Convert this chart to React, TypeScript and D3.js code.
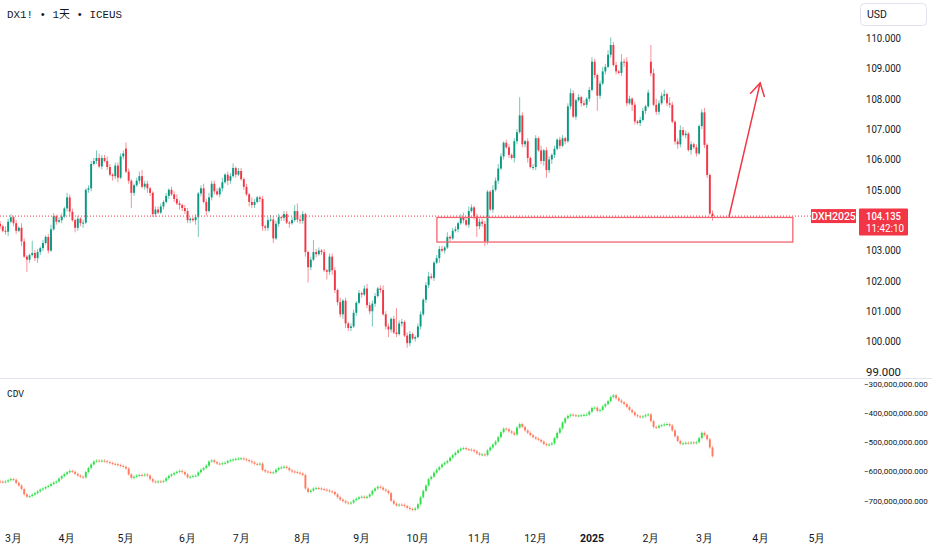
import React from "react";
import * as d3 from "d3";

// ---------- DATA ----------
const closes: number[] = [
  103.80, 103.65, 103.62, 103.95, 104.10, 103.90, 103.65, 103.75, 103.30, 102.80,
  102.70, 102.85, 102.92, 102.75, 102.95, 103.08, 103.25, 103.45, 103.00, 103.70,
  104.13, 103.95, 104.00, 104.12, 104.39, 104.75, 104.28, 104.00, 103.75, 104.05,
  103.90, 103.92, 105.00, 105.05, 105.85, 105.95, 106.05, 105.77, 106.05, 105.95,
  105.75, 105.50, 105.45, 105.80, 105.40, 106.10, 106.20, 105.60, 105.30, 104.90,
  105.15, 105.30, 105.45, 105.10, 105.20, 105.05, 104.90, 104.20, 104.35, 104.25,
  104.45, 104.60, 104.80, 105.00, 104.85, 104.70, 104.55, 104.50, 104.40, 104.30,
  104.00, 104.05, 104.00, 104.10, 104.88, 105.05, 104.60, 104.30, 104.75, 105.20,
  104.95, 104.85, 105.05, 105.25, 105.50, 105.30, 105.45, 105.72, 105.50, 105.62,
  105.35, 105.10, 104.85, 104.60, 104.50, 104.60, 104.75, 104.70, 103.80, 103.75,
  104.00, 104.02, 103.40, 103.88, 104.10, 104.08, 104.20, 103.92, 103.90, 104.00,
  104.30, 104.02, 103.98, 104.20, 102.95, 102.45, 102.70, 102.95, 102.88, 103.00,
  102.95, 102.35, 102.30, 102.80, 102.35, 101.70, 101.30, 100.90, 101.35, 100.60,
  100.45, 100.50, 100.95, 101.28, 101.60, 101.55, 101.75, 101.20, 101.00, 101.25,
  101.50, 101.75, 101.70, 100.90, 100.50, 100.40, 100.75, 100.30, 100.25, 100.60,
  100.65, 100.20, 99.95, 100.25, 100.10, 100.15, 100.50, 100.90, 101.38, 101.86,
  102.15, 102.10, 102.60, 102.75, 103.05, 103.00, 103.10, 103.45, 103.40, 103.65,
  103.70, 103.90, 104.10, 104.00, 103.85, 104.30, 104.42, 104.12, 103.80, 103.95,
  103.88, 103.30, 104.94, 104.35, 105.00, 105.30, 105.70, 106.10, 106.55, 106.40,
  106.15, 106.05, 106.60, 106.90, 107.45, 106.50, 106.60, 106.05, 105.75, 105.75,
  106.70, 106.30, 105.95, 106.30, 105.65, 106.00, 106.15, 106.35, 106.65, 106.45,
  106.70, 106.60, 107.75, 108.18, 107.41, 107.95, 108.05, 107.85, 107.80, 108.00,
  108.29, 109.22, 108.78, 108.10, 108.50, 108.90, 109.05, 109.45, 109.77, 109.11,
  108.90, 108.85, 109.22, 109.20, 107.85, 108.00, 107.80, 107.25, 107.20, 107.30,
  107.60, 107.75, 108.20, 108.84, 107.80, 107.57, 107.85, 108.10, 108.15, 107.85,
  107.80, 107.24, 106.59, 106.50, 106.97, 106.80, 106.85, 106.31, 106.50, 106.40,
  106.20, 107.10, 107.55, 106.48, 105.49, 104.22, 104.135,
];
const firstOpen = 103.88;
// opens that gapped away from the previous close (bar index -> open)
const gapOpenIdx = [243, 47, 234];
const gapOpenVal = [109.22, 106.36, 109.22];
// wick lengths in steps of 0.05 (base-36 digits), one char per bar
const wickUpCodes =
  "2132212132 1182212123 2122132212 1212225322 3212222421 1234221122 2121223212 2112123232 2213122312 2121321121 " +
  "2322212212 4522112822 1212221312 1221212322 21232212g2 2122112212 3212221312 2123232122 2211323212 2122c21212 " +
  "2131221212 2123212121 2321232352 2152321212 212b342231 4212322121 2123112";
const wickDnCodes =
  "2123122131 8212322121 1212123132 2312212121 213231212a 2121232221 1212121322 2213d21312 2122132121 1213221232 " +
  "2131222131 12223a2121 2152322233 221212122a 2121252121 2132121212 2121312121 1212121272 2321212121 2132122312 " +
  "2123523212 1212121212 212a212121 2123214212 1212122132 2123212131 2122213";

// Cumulative delta volume, millions
const cdv: number[] = [
  -637, -638, -636, -632, -628, -630, -641, -650, -662, -680,
  -688, -686, -681, -676, -670, -664, -660, -655, -651, -645,
  -640, -636, -626, -618, -611, -605, -600, -603, -610, -616,
  -620, -622, -604, -590, -578, -568, -565, -566, -565, -567,
  -570, -573, -576, -577, -580, -583, -586, -592, -612, -624,
  -620, -616, -614, -615, -612, -616, -628, -636, -638, -636,
  -637, -634, -625, -617, -612, -607, -603, -600, -604, -612,
  -622, -620, -617, -616, -605, -596, -590, -582, -568, -564,
  -570, -575, -576, -574, -572, -566, -563, -561, -559, -558,
  -557, -560, -563, -567, -571, -576, -578, -575, -597, -602,
  -604, -606, -605, -596, -590, -588, -586, -590, -598, -602,
  -604, -606, -609, -614, -660, -672, -667, -660, -658, -660,
  -662, -664, -667, -670, -672, -680, -690, -698, -703, -708,
  -711, -708, -700, -695, -690, -688, -692, -688, -680, -668,
  -660, -654, -657, -664, -668, -676, -702, -712, -718, -715,
  -716, -720, -726, -730, -733, -728, -714, -690, -668, -650,
  -628, -620, -606, -596, -587, -578, -572, -566, -555, -546,
  -538, -530, -524, -522, -526, -527, -529, -533, -540, -545,
  -544, -546, -530, -520, -510, -500, -485, -468, -456, -458,
  -465, -470, -476, -452, -440, -450, -462, -470, -478, -485,
  -490, -494, -500, -508, -512, -510, -506, -488, -470, -455,
  -435, -420, -412, -408, -410, -412, -411, -410, -409, -408,
  -398, -385, -384, -395, -392, -380, -372, -362, -348, -342,
  -352, -360, -366, -372, -382, -392, -400, -410, -414, -416,
  -414, -410, -407, -430, -450, -452, -446, -444, -441, -440,
  -445, -462, -482, -498, -507, -506, -504, -505, -503, -505,
  -502, -488, -470, -478, -492, -520, -550,
];
const cdvFirstOpen = -636;

const monthLabels = ["3月", "4月", "5月", "6月", "7月", "8月", "9月", "10月", "11月", "12月", "2025", "2月", "3月", "4月", "5月"];
const monthIndex = [5, 25, 47, 70, 90, 113, 135, 156, 179, 200, 221, 243, 263, 284, 305];
const priceTicks = [110, 109, 108, 107, 106, 105, 104, 103, 102, 101, 100, 99];
const cdvTicks = [-300, -400, -500, -600, -700];

const titleText = "DX1! • 1天 • ICEUS";
const paneTitle = "CDV";
const currency = "USD";
const contractName = "DXH2025";
const lastPrice = 104.135;
const countdown = "11:42:10";

// drawn annotations, in (bar index, price) units
const zoneFrom = 163.1, zoneTo = 296, zoneTop = 104.09, zoneBottom = 103.28;
const arrowFrom = [272.2, 104.13];
const arrowTo = [283.8, 108.52];

// ---------- CHART ----------
const UP = "#089981";
const DOWN = "#f23645";
const CDV_UP = "#2fe04a";
const CDV_DOWN = "#ff7a5e";
const AXIS_FONT = "Roboto, 'Noto Sans', sans-serif";

export default function App() {
  const wu = wickUpCodes.replace(/ /g, "");
  const wd = wickDnCodes.replace(/ /g, "");
  const x = d3.scaleLinear().domain([0, 266]).range([0.1, 712.5]);
  const y = d3.scaleLinear().domain([99, 110]).range([372, 38]);
  const yc = d3.scaleLinear().domain([-700, -300]).range([500.2, 383]);
  const bw = 1.9;

  const candles = closes.map((c, i) => {
    const gi = gapOpenIdx.indexOf(i);
    const o = gi >= 0 ? gapOpenVal[gi] : i === 0 ? firstOpen : closes[i - 1];
    const h = Math.max(o, c) + parseInt(wu[i] || "1", 36) * 0.05;
    const l = Math.min(o, c) - parseInt(wd[i] || "1", 36) * 0.05;
    return { i, o, c, h, l };
  });
  const cdvCandles = cdv.map((c, i) => {
    const o = i === 0 ? cdvFirstOpen : cdv[i - 1];
    return { i, o, c };
  });

  const fmtP = d3.format(".3f");
  const fmtC = (v: number) => d3.format(",.3f")(v * 1e6);

  const yLast = y(lastPrice);
  // axis ticks hidden behind the last-price label are not drawn
  const visiblePriceTicks = priceTicks.filter((p) => Math.abs(y(p) - yLast) > 12);

  // arrow geometry
  const ax0 = x(arrowFrom[0]), ay0 = y(arrowFrom[1]);
  const ax1 = x(arrowTo[0]), ay1 = y(arrowTo[1]);
  const len = Math.hypot(ax0 - ax1, ay0 - ay1);
  const ux = (ax0 - ax1) / len, uy = (ay0 - ay1) / len;
  const wing = (ang: number) => {
    const ca = Math.cos(ang), sa = Math.sin(ang);
    return [ax1 + 14 * (ux * ca - uy * sa), ay1 + 14 * (ux * sa + uy * ca)];
  };
  const w1 = wing(Math.PI / 6), w2 = wing(-Math.PI / 6);

  return (
    <div style={{ position: "fixed", left: 0, top: 0, width: 932, height: 550, background: "#fff" }}>
      <svg width={932} height={550} style={{ display: "block" }}>
        <defs>
          <clipPath id="mainAxisClip">
            <rect x={858} y={0} width={74} height={378} />
          </clipPath>
        </defs>
        <rect x={0} y={0} width={932} height={550} fill="#ffffff" />

        {/* title */}
        <text x={7} y={18} fontFamily="'Liberation Mono', 'Noto Sans CJK SC', monospace" fontSize={11.5} fill="#131722" textLength={115} lengthAdjust="spacingAndGlyphs">
          {titleText}
        </text>

        {/* main candles */}
        <g>
          {candles.map((d) => {
            const col = d.c >= d.o ? UP : DOWN;
            const cx = x(d.i);
            const top = y(Math.max(d.o, d.c));
            const bot = y(Math.min(d.o, d.c));
            return (
              <g key={d.i}>
                <line x1={cx} x2={cx} y1={y(d.h)} y2={y(d.l)} stroke={col} strokeWidth={1} strokeOpacity={0.55} />
                <rect x={cx - bw / 2} y={top} width={bw} height={Math.max(1, bot - top)} fill={col} />
              </g>
            );
          })}
        </g>

        {/* zone box */}
        <rect
          x={x(zoneFrom)}
          y={y(zoneTop)}
          width={x(zoneTo) - x(zoneFrom)}
          height={y(zoneBottom) - y(zoneTop)}
          fill="none"
          stroke="#f4636e"
          strokeWidth={1.3}
        />

        {/* last price dotted line */}
        <line x1={0} x2={811} y1={yLast} y2={yLast} stroke={DOWN} strokeWidth={1} strokeDasharray="1 2" />

        {/* arrow */}
        <g stroke={DOWN} strokeWidth={1.5} fill="none" strokeLinecap="round">
          <line x1={ax0} y1={ay0} x2={ax1} y2={ay1} />
          <polyline points={`${w1[0]},${w1[1]} ${ax1},${ay1} ${w2[0]},${w2[1]}`} />
        </g>

        {/* price axis */}
        <rect x={860.5} y={3.5} width={66} height={22} rx={4} fill="#fff" stroke="#e0e3eb" />
        <text x={867} y={18} fontFamily={AXIS_FONT} fontSize={10.5} fill="#131722">{currency}</text>
        <g clipPath="url(#mainAxisClip)">
          {visiblePriceTicks.map((p) => (
            <text key={p} x={866} y={y(p) + 3.8} fontFamily={AXIS_FONT} fontSize={10.5} fill="#131722" textLength={35} lengthAdjust="spacingAndGlyphs">
              {fmtP(p)}
            </text>
          ))}
        </g>

        {/* last price labels */}
        <rect x={811} y={yLast - 7} width={45} height={14} fill={DOWN} />
        <text x={833.5} y={yLast + 3.8} textAnchor="middle" fontFamily={AXIS_FONT} fontSize={10.5} fill="#fff" fontWeight={500}>
          {contractName}
        </text>
        <rect x={859} y={yLast - 7.5} width={49} height={27} rx={1} fill={DOWN} />
        <text x={866} y={yLast + 4} fontFamily={AXIS_FONT} fontSize={10.5} fill="#fff" fontWeight={500} textLength={35} lengthAdjust="spacingAndGlyphs">
          {fmtP(lastPrice)}
        </text>
        <text x={866} y={yLast + 16} fontFamily={AXIS_FONT} fontSize={10.5} fill="#fff" textLength={38} lengthAdjust="spacingAndGlyphs">
          {countdown}
        </text>

        {/* pane separator */}
        <line x1={0} x2={932} y1={378.5} y2={378.5} stroke="#e0e3eb" strokeWidth={1} />

        {/* CDV pane */}
        <text x={7} y={397} fontFamily="'Liberation Mono', monospace" fontSize={11.5} fill="#131722" textLength={17} lengthAdjust="spacingAndGlyphs">
          {paneTitle}
        </text>
        <g>
          {cdvCandles.map((d) => {
            const col = d.c >= d.o ? CDV_UP : CDV_DOWN;
            const cx = x(d.i);
            const top = yc(Math.max(d.o, d.c));
            const bot = yc(Math.min(d.o, d.c));
            return (
              <g key={d.i}>
                <line x1={cx} x2={cx} y1={top - 1.5} y2={bot + 1.5} stroke={col} strokeWidth={1} strokeOpacity={0.5} />
                <rect x={cx - bw / 2} y={top} width={bw} height={Math.max(1, bot - top)} fill={col} />
              </g>
            );
          })}
        </g>
        {cdvTicks.map((v) => (
          <text key={v} x={864} y={yc(v) + 3.5} fontFamily={AXIS_FONT} fontSize={8} fill="#131722">
            {fmtC(v)}
          </text>
        ))}

        {/* time axis */}
        {monthLabels.map((m, k) => (
          <text
            key={k}
            x={x(monthIndex[k])}
            y={542}
            textAnchor="middle"
            fontFamily={AXIS_FONT}
            fontSize={10.5}
            fontWeight={m === "2025" ? 700 : 400}
            fill="#131722"
          >
            {m}
          </text>
        ))}
      </svg>
    </div>
  );
}
